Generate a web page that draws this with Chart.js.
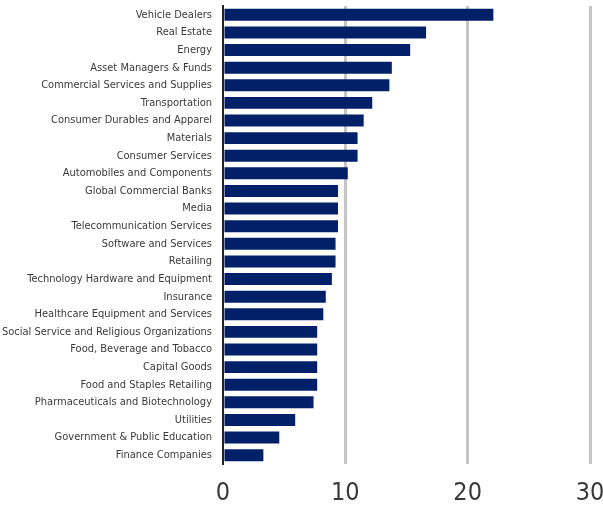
<!DOCTYPE html>
<html>
<head>
<meta charset="utf-8">
<script src="https://cdn.jsdelivr.net/npm/chart.js@4/dist/chart.umd.min.js"></script>
<style>
  html, body { margin: 0; padding: 0; background: #fff; }
  #wrap { width: 603px; height: 506px; }
</style>
</head>
<body>
<div id="wrap"><canvas id="sectorChart" width="603" height="506"></canvas></div>
<script>
// Sectors, ranked by value
const sectors = [
  "Vehicle Dealers",
  "Real Estate",
  "Energy",
  "Asset Managers & Funds",
  "Commercial Services and Supplies",
  "Transportation",
  "Consumer Durables and Apparel",
  "Materials",
  "Consumer Services",
  "Automobiles and Components",
  "Global Commercial Banks",
  "Media",
  "Telecommunication Services",
  "Software and Services",
  "Retailing",
  "Technology Hardware and Equipment",
  "Insurance",
  "Healthcare Equipment and Services",
  "Social Service and Religious Organizations",
  "Food, Beverage and Tobacco",
  "Capital Goods",
  "Food and Staples Retailing",
  "Pharmaceuticals and Biotechnology",
  "Utilities",
  "Government & Public Education",
  "Finance Companies"
];

const values = [
  22.1, 16.6, 15.3, 13.8, 13.6, 12.2, 11.5, 11.0, 11.0, 10.2,
  9.4, 9.4, 9.4, 9.2, 9.2, 8.9, 8.4, 8.2, 7.7, 7.7,
  7.7, 7.7, 7.4, 5.9, 4.6, 3.3
];

const xTicks = [0, 10, 20, 30];

const NAVY = "#022068";
const LABEL_FONT = "'DejaVu Sans Condensed', 'DejaVu Sans', sans-serif";

const ctx = document.getElementById("sectorChart").getContext("2d");
new Chart(ctx, {
  type: "bar",
  data: {
    labels: sectors,
    datasets: [
      {
        data: values,
        backgroundColor: NAVY,
        borderWidth: 0,
        categoryPercentage: 1,
        barPercentage: 0.68,
      },
    ],
  },
  options: {
    indexAxis: "y",
    responsive: false,
    animation: false,
    devicePixelRatio: 1,
    layout: { padding: 0 },
    plugins: {
      legend: { display: false },
      tooltip: { enabled: false },
    },
    scales: {
      x: {
        min: 0,
        max: 30,
        afterBuildTicks: (scale) => {
          scale.ticks = xTicks.map((v) => ({ value: v }));
        },
        afterFit: (scale) => {
          scale.height = 42;
          scale.paddingLeft = 0;
          scale.paddingRight = 13;
        },
        border: { display: false },
        grid: {
          drawTicks: false,
          color: (c) => (c.tick && c.tick.value === 0 ? "rgba(0,0,0,0)" : "#c4c4c4"),
          lineWidth: 3,
        },
        ticks: {
          padding: 14,
          color: "#3a3a3a",
          font: { family: LABEL_FONT, size: 25 },
        },
      },
      y: {
        afterFit: (scale) => {
          scale.width = 223;
          scale.paddingTop = 6;
          scale.paddingBottom = 0;
        },
        border: { display: true, color: "#222", width: 2 },
        grid: { display: false, drawTicks: false },
        ticks: {
          autoSkip: false,
          padding: 11,
          color: "#3a3a3a",
          font: { family: LABEL_FONT, size: 11 },
        },
      },
    },
  },
});
</script>
</body>
</html>
